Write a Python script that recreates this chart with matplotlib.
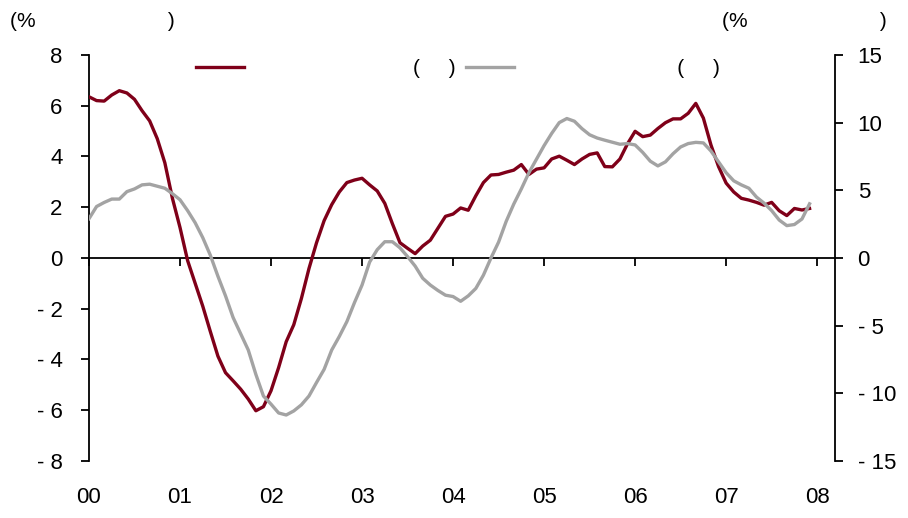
import numpy as np
import matplotlib
matplotlib.use("Agg")
from matplotlib import pyplot as plt

plt.rcParams['font.family'] = ['Liberation Sans', 'DejaVu Sans']

# monthly data, Jan 2000 - Dec 2007
red_vals = [6.35, 6.2, 6.18, 6.42, 6.59, 6.5, 6.25, 5.8, 5.4, 4.7, 3.75, 2.35,
            1.2, -0.1, -1.0, -1.9, -2.9, -3.87, -4.52, -4.84, -5.17, -5.56, -6.02, -5.86,
            -5.23, -4.32, -3.3, -2.63, -1.6, -0.42, 0.6, 1.47, 2.1, 2.6, 2.97, 3.07,
            3.14, 2.88, 2.64, 2.15, 1.35, 0.6, 0.38, 0.17, 0.47, 0.7, 1.17, 1.64,
            1.73, 1.97, 1.88, 2.45, 2.97, 3.27, 3.29, 3.38, 3.46, 3.68, 3.29, 3.5,
            3.55, 3.9, 4.01, 3.85, 3.68, 3.9, 4.08, 4.14, 3.6, 3.59, 3.9, 4.5,
            4.99, 4.78, 4.84, 5.1, 5.33, 5.48, 5.48, 5.7, 6.09, 5.51, 4.45, 3.6,
            2.95, 2.6, 2.35, 2.28, 2.19, 2.08, 2.19, 1.86, 1.67, 1.95, 1.89, 1.95]

gray_vals = [2.9, 3.8, 4.1, 4.35, 4.35, 4.9, 5.1, 5.4, 5.45, 5.3, 5.15, 4.75,
             4.3, 3.5, 2.6, 1.5, 0.2, -1.35, -2.8, -4.4, -5.6, -6.8, -8.6, -10.2,
             -10.8, -11.45, -11.6, -11.3, -10.85, -10.2, -9.2, -8.23, -6.8, -5.8, -4.7, -3.3,
             -2.0, -0.3, 0.61, 1.2, 1.2, 0.75, 0.1, -0.6, -1.5, -2.0, -2.4, -2.75,
             -2.85, -3.2, -2.8, -2.25, -1.27, 0.0, 1.17, 2.7, 3.98, 5.1, 6.3, 7.3,
             8.3, 9.2, 10.0, 10.3, 10.1, 9.55, 9.1, 8.86, 8.7, 8.55, 8.4, 8.45,
             8.35, 7.8, 7.15, 6.8, 7.1, 7.7, 8.2, 8.45, 8.54, 8.5, 7.9, 7.1,
             6.3, 5.7, 5.4, 5.15, 4.5, 4.05, 3.5, 2.8, 2.39, 2.47, 2.88, 4.0]

year_labels = ['00', '01', '02', '03', '04', '05', '06', '07', '08']
left_ticks = [-8, -6, -4, -2, 0, 2, 4, 6, 8]
right_ticks = [-15, -10, -5, 0, 5, 10, 15]

red_label = " " * 28 + "(     )"
gray_label = " " * 27 + "(     )"
unit_text = "(%" + " " * 23 + ")"

RED = "#7f0019"
GRAY = "#a3a3a3"

x = np.arange(len(red_vals))

fig = plt.figure(figsize=(9.08, 5.18), dpi=100)
ax = fig.add_axes([0.098, 0.110, 0.822, 0.784])
ax2 = ax.twinx()

l1, = ax.plot(x, red_vals, color=RED, lw=2.4, zorder=3, label=red_label)
l2, = ax2.plot(x, gray_vals, color=GRAY, lw=2.4, zorder=2, label=gray_label)

ax.set_xlim(0, 98.4)
ax.set_ylim(-8, 8)
ax2.set_ylim(-15, 15)

ax.set_yticks(left_ticks)
ax.set_yticklabels([("- %d" % -v) if v < 0 else str(v) for v in left_ticks])
ax2.set_yticks(right_ticks)
ax2.set_yticklabels([("- %d" % -v) if v < 0 else str(v) for v in right_ticks])

ax.set_xticks(np.arange(len(year_labels)) * 12)
ax.set_xticklabels(year_labels)

for a in (ax, ax2):
    a.spines['top'].set_visible(False)
    a.spines['bottom'].set_visible(False)
    a.spines['left'].set_linewidth(1.3)
    a.spines['right'].set_linewidth(1.3)
ax.spines['bottom'].set_visible(True)
ax.spines['bottom'].set_position(('data', 0))
ax.spines['bottom'].set_linewidth(1.3)
ax2.spines['left'].set_visible(False)
ax.spines['right'].set_visible(False)

ax.tick_params(axis='y', direction='out', length=6, width=1.3, pad=13, labelsize=16)
ax2.tick_params(axis='y', direction='out', length=6, width=1.3, pad=10, labelsize=16)
ax.tick_params(axis='x', direction='out', length=6, width=1.3, pad=159, labelsize=16)
ax.patch.set_visible(False)

ax.legend([l1, l2], [red_label, gray_label], ncol=2, frameon=False,
          loc='upper left', bbox_to_anchor=(0.118, 1.035), fontsize=15,
          handlelength=2.3, handletextpad=0.4, columnspacing=0.5)

fig.text(0.011, 0.958, unit_text, fontsize=15, va='center', ha='left')
fig.text(0.795, 0.958, unit_text, fontsize=15, va='center', ha='left')

fig.savefig("out.png", dpi=100)
